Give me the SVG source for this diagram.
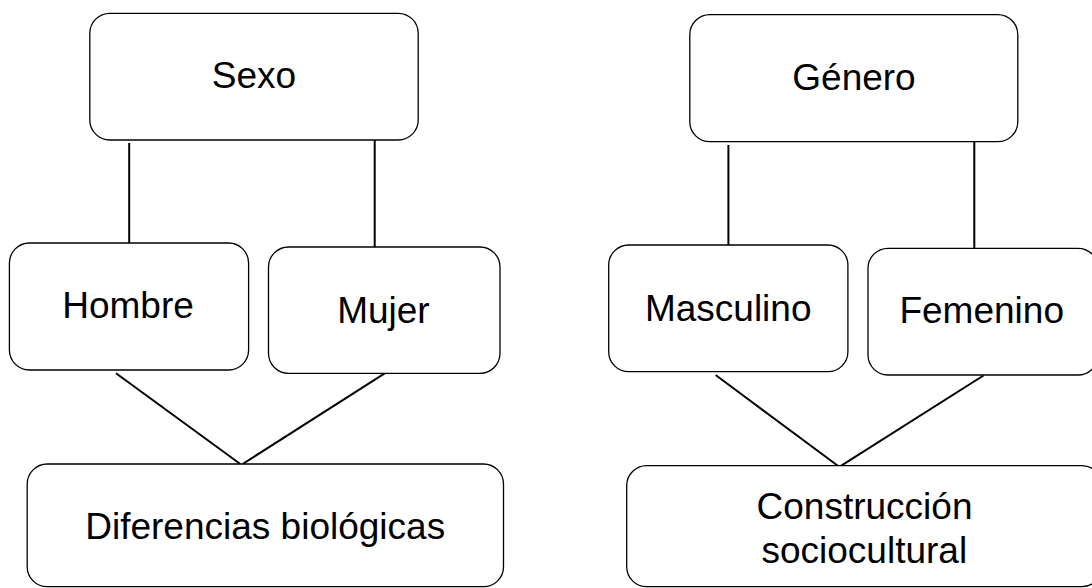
<svg xmlns="http://www.w3.org/2000/svg" width="1092" height="588" viewBox="0 0 1092 588">
<style>
.box{fill:#fff;stroke:#000;stroke-width:1.3}
.lbl{font-family:"Liberation Sans",Arial,sans-serif;font-size:37px;fill:#000;text-anchor:middle}
.con line{stroke:#000;stroke-width:2}
</style>
<rect width="1092" height="588" fill="#fff"/>
<g id="connectors" class="con">
<line x1="129.2" y1="143" x2="129.2" y2="243"/>
<line x1="374.7" y1="140" x2="374.7" y2="250"/>
<line x1="116" y1="373.3" x2="240.3" y2="464"/>
<line x1="384.7" y1="373.3" x2="242.7" y2="464"/>
<line x1="728.4" y1="145" x2="728.4" y2="245"/>
<line x1="974.3" y1="141.7" x2="974.3" y2="251.7"/>
<line x1="715.6" y1="375" x2="837.8" y2="465.7"/>
<line x1="983.5" y1="375.5" x2="841.3" y2="465.7"/>
</g>
<g id="sexo"><rect class="box" x="89.8" y="13.3" width="328.4" height="126.7" rx="20"/><text class="lbl" x="254" y="88.3">Sexo</text></g>
<g id="hombre"><rect class="box" x="9.4" y="243" width="239.2" height="127" rx="20"/><text class="lbl" x="128" y="318.3">Hombre</text></g>
<g id="mujer"><rect class="box" x="268.5" y="247" width="231.5" height="126.3" rx="20"/><text class="lbl" x="383.4" y="323.3">Mujer</text></g>
<g id="diferencias"><rect class="box" x="27.2" y="464" width="476.3" height="122.7" rx="20"/><text class="lbl" x="265.2" y="539.3">Diferencias biológicas</text></g>
<g id="genero"><rect class="box" x="689.8" y="14.7" width="328" height="127" rx="20"/><text class="lbl" x="854" y="90">Género</text></g>
<g id="masculino"><rect class="box" x="608.7" y="245" width="239.2" height="126.7" rx="20"/><text class="lbl" x="728.2" y="320.7">Masculino</text></g>
<g id="femenino"><rect class="box" x="868" y="248.3" width="230" height="126.7" rx="20"/><text class="lbl" x="981.7" y="322.7">Femenino</text></g>
<g id="construccion"><rect class="box" x="626.7" y="465.7" width="475.3" height="121" rx="20"/><text class="lbl" x="864.5" y="519.3">Construcción</text><text class="lbl" x="864.3" y="563.3">sociocultural</text></g>
</svg>
